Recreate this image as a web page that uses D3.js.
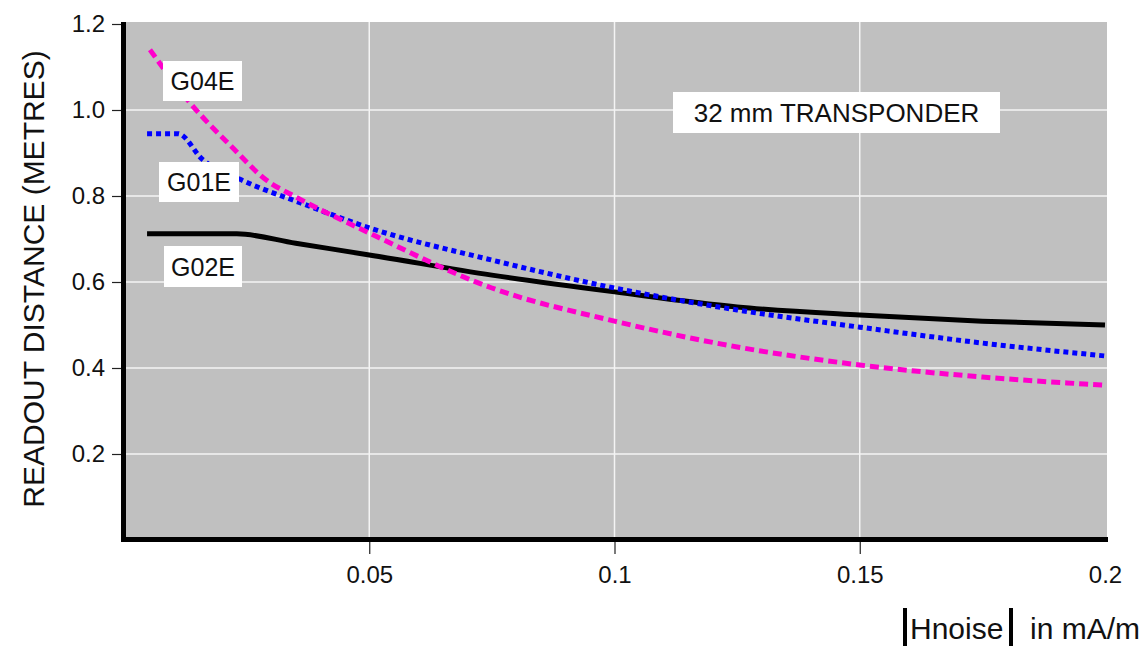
<!DOCTYPE html>
<html>
<head>
<meta charset="utf-8">
<script src="https://cdn.jsdelivr.net/npm/d3@7"></script>
<style>
  body { margin: 0; background: #fff; }
  text { font-family: "Liberation Sans", Arial, sans-serif; fill: #111; }
</style>
</head>
<body>
<div id="chart"></div>
<script>
// data
var g02eX = [0.0047, 0.023, 0.035, 0.05, 0.075, 0.1, 0.125, 0.15, 0.175, 0.2];
var g02eY = [0.712, 0.712, 0.69, 0.663, 0.616, 0.577, 0.542, 0.523, 0.509, 0.5];

var g01eX = [0.0047, 0.011, 0.016, 0.024, 0.036, 0.05, 0.075, 0.1, 0.125, 0.15, 0.175, 0.2];
var g01eY = [0.945, 0.945, 0.885, 0.837, 0.784, 0.726, 0.651, 0.586, 0.535, 0.495, 0.458, 0.428];

var g04eX = [0.0053, 0.0135, 0.022, 0.029, 0.035, 0.05, 0.075, 0.1, 0.125, 0.15, 0.175, 0.2];
var g04eY = [1.14, 1.016, 0.914, 0.837, 0.798, 0.714, 0.586, 0.509, 0.449, 0.407, 0.379, 0.36];

var xTicks = [0.05, 0.1, 0.15, 0.2];
var yTicks = [0.2, 0.4, 0.6, 0.8, 1.0, 1.2];

var svgWidth = 1143;
var svgHeight = 650;

var svg = d3.select("#chart")
  .append("svg")
  .attr("width", svgWidth)
  .attr("height", svgHeight);

var x = d3.scaleLinear().domain([0, 0.2]).range([124, 1105]);
var y = d3.scaleLinear().domain([0, 1.2]).range([540, 24]);

// plot background
svg.append("rect")
  .attr("x", 124)
  .attr("y", 22)
  .attr("width", 983)
  .attr("height", 518)
  .attr("fill", "#c0c0c0");

// grid
svg.append("g")
  .selectAll("line")
  .data(yTicks.slice(0, 5))
  .enter()
  .append("line")
  .attr("x1", 124).attr("x2", 1107)
  .attr("y1", d => y(d)).attr("y2", d => y(d))
  .attr("stroke", "#f4f4f4").attr("stroke-width", 1.5);

svg.append("g")
  .selectAll("line")
  .data(xTicks.slice(0, 3))
  .enter()
  .append("line")
  .attr("x1", d => x(d)).attr("x2", d => x(d))
  .attr("y1", 22).attr("y2", 540)
  .attr("stroke", "#f4f4f4").attr("stroke-width", 1.5);

// axes
var leftAxis = d3.axisLeft(y).tickValues(yTicks).tickFormat(d3.format(".1f")).tickSize(9).tickPadding(7);
var bottomAxis = d3.axisBottom(x).tickValues(xTicks).tickFormat(d => d3.format("")(d)).tickSize(12).tickPadding(12);

var gy = svg.append("g").attr("transform", "translate(121,0)").call(leftAxis);
var gx = svg.append("g").attr("transform", "translate(0,542)").call(bottomAxis);

[gx, gy].forEach(function(g) {
  g.select(".domain").remove();
  g.selectAll("line").attr("stroke", "#222").attr("stroke-width", 1.2);
  g.selectAll("text")
    .style("font-size", "24px")
    .style("font-family", "Liberation Sans, Arial, sans-serif")
    .attr("fill", "#222");
});
gx.select(".tick:last-of-type line").remove();

// thick black axis lines
svg.append("line")
  .attr("x1", 123.5).attr("x2", 123.5)
  .attr("y1", 22).attr("y2", 542)
  .attr("stroke", "#000").attr("stroke-width", 5);
svg.append("line")
  .attr("x1", 121).attr("x2", 1108)
  .attr("y1", 539.5).attr("y2", 539.5)
  .attr("stroke", "#000").attr("stroke-width", 5);

// curves
var line = d3.line()
  .x(d => x(d[0]))
  .y(d => y(d[1]))
  .curve(d3.curveMonotoneX);

var series = [
  { xs: g02eX, ys: g02eY, color: "#000000", dash: null },
  { xs: g01eX, ys: g01eY, color: "#0000ff", dash: "5,4" },
  { xs: g04eX, ys: g04eY, color: "#ff00cc", dash: "9,5" }
];

series.forEach(function(s) {
  var pts = s.xs.map((v, i) => [v, s.ys[i]]);
  svg.append("path")
    .datum(pts)
    .attr("d", line)
    .attr("fill", "none")
    .attr("stroke", s.color)
    .attr("stroke-width", 5)
    .attr("stroke-dasharray", s.dash);
});

// label boxes
var labels = [
  { t: "G04E", x: 163, y: 61, w: 79, h: 40, fs: 25 },
  { t: "G01E", x: 159, y: 162, w: 80, h: 40, fs: 25 },
  { t: "G02E", x: 164, y: 246, w: 78, h: 41, fs: 25 },
  { t: "32 mm TRANSPONDER", x: 673, y: 92, w: 327, h: 41, fs: 26 }
];

labels.forEach(function(l) {
  svg.append("rect")
    .attr("x", l.x).attr("y", l.y)
    .attr("width", l.w).attr("height", l.h)
    .attr("fill", "#fff");
  svg.append("text")
    .attr("x", l.x + l.w / 2)
    .attr("y", l.y + l.h / 2 + l.fs * 0.36)
    .attr("text-anchor", "middle")
    .style("font-size", l.fs + "px")
    .text(l.t);
});

// y axis title
svg.append("text")
  .attr("transform", "translate(44,279) rotate(-90)")
  .attr("text-anchor", "middle")
  .style("font-size", "30px")
  .text("READOUT DISTANCE (METRES)");

// x axis title
svg.append("rect").attr("x", 903).attr("y", 608).attr("width", 4).attr("height", 38).attr("fill", "#000");
svg.append("text")
  .attr("x", 910).attr("y", 639)
  .style("font-size", "30px")
  .text("Hnoise");
svg.append("rect").attr("x", 1009).attr("y", 608).attr("width", 4).attr("height", 38).attr("fill", "#000");
svg.append("text")
  .attr("x", 1030).attr("y", 639)
  .style("font-size", "30px")
  .text("in mA/m");
</script>
</body>
</html>
